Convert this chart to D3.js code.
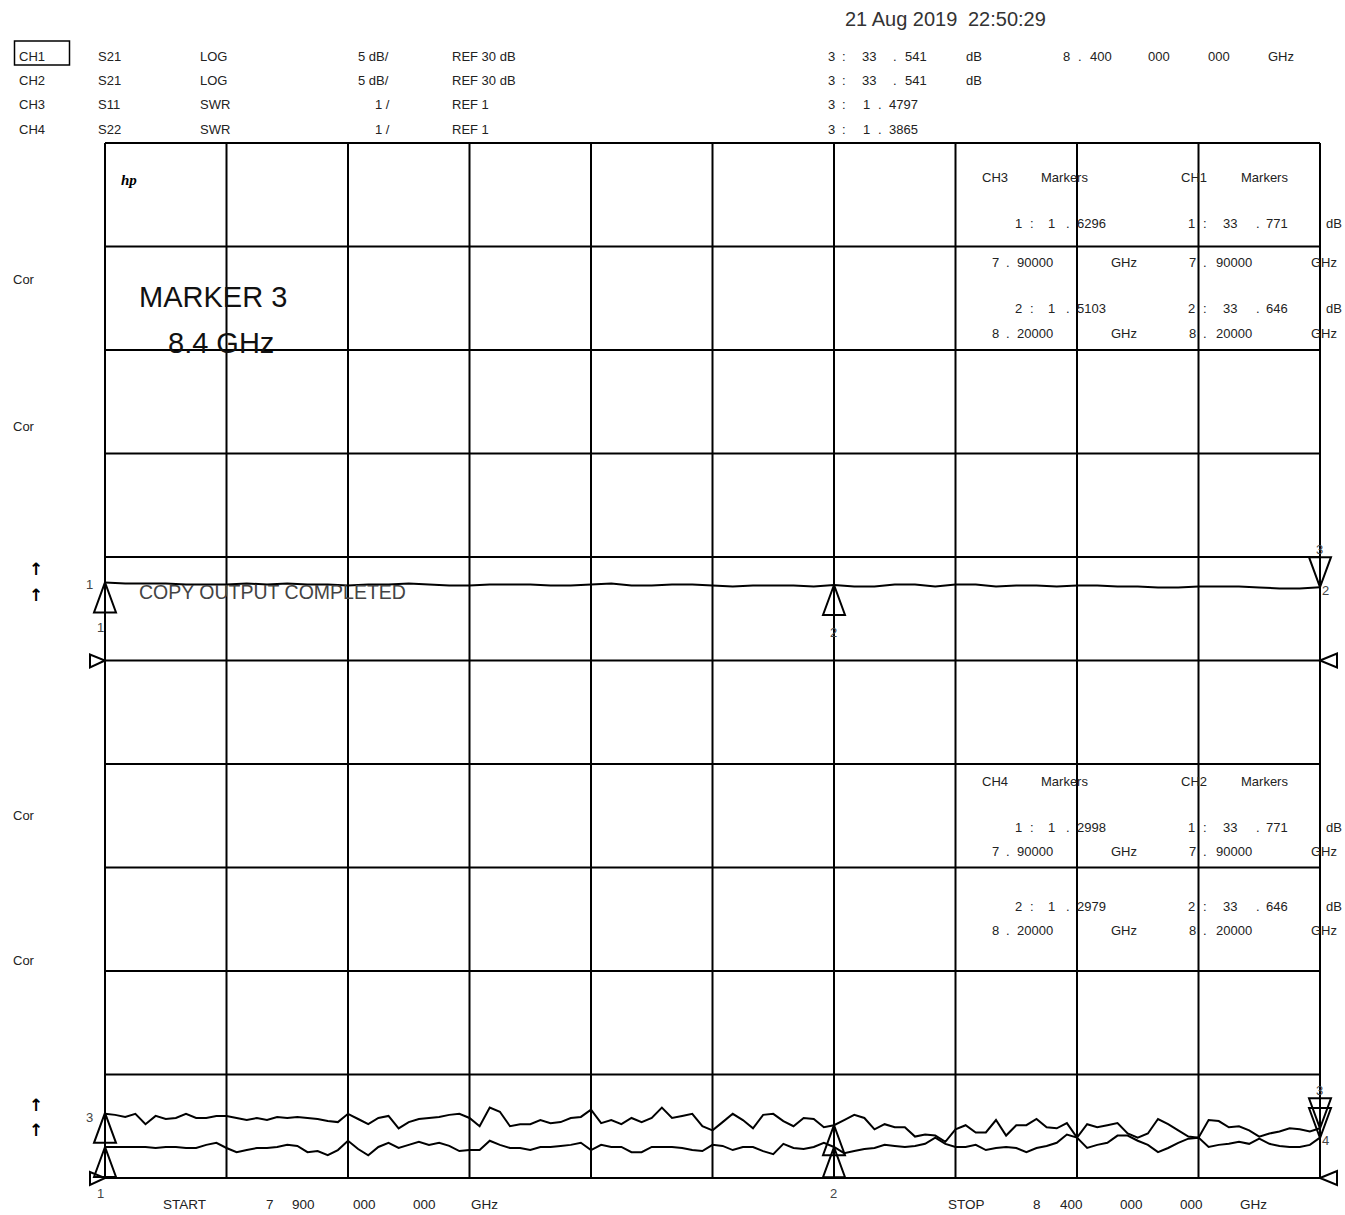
<!DOCTYPE html>
<html>
<head>
<meta charset="utf-8">
<script src="https://cdn.jsdelivr.net/npm/d3@7"></script>
<style>
  body { margin: 0; background: #fff; }
  svg { display: block; }
  text { font-family: "Liberation Sans", Arial, sans-serif; fill: #222; }
</style>
</head>
<body>
<div id="plotPanel"></div>
<script>

// sweep 7.9 .. 8.4 GHz
let startGHz = 7.9, stopGHz = 8.4;

// CH1  S21  LOG  (dB)
let ch1Db = [33.77, 33.72, 33.72, 33.72, 33.67, 33.67, 33.67, 33.72, 33.67, 33.72,
  33.67, 33.67, 33.62, 33.67, 33.67, 33.72, 33.67, 33.62, 33.62, 33.67,
  33.67, 33.67, 33.62, 33.62, 33.67, 33.72, 33.62, 33.62, 33.67, 33.67,
  33.62, 33.57, 33.62, 33.62, 33.62, 33.57, 33.65, 33.57, 33.57, 33.67,
  33.67, 33.57, 33.67, 33.67, 33.57, 33.62, 33.62, 33.57, 33.62, 33.62,
  33.57, 33.57, 33.53, 33.53, 33.57, 33.57, 33.57, 33.53, 33.48, 33.48, 33.54];

// CH3  S11  SWR
let ch3Swr = [1.62, 1.61, 1.59, 1.62, 1.52, 1.60, 1.57, 1.58, 1.62, 1.58,
  1.58, 1.60, 1.60, 1.58, 1.56, 1.58, 1.56, 1.59, 1.58, 1.59,
  1.58, 1.57, 1.55, 1.54, 1.62, 1.57, 1.52, 1.58, 1.60, 1.48,
  1.54, 1.57, 1.58, 1.59, 1.61, 1.62, 1.58, 1.50, 1.68, 1.64,
  1.50, 1.52, 1.52, 1.56, 1.53, 1.54, 1.58, 1.59, 1.66, 1.53,
  1.56, 1.52, 1.58, 1.54, 1.58, 1.68, 1.58, 1.60, 1.62, 1.50,
  1.46, 1.54, 1.62, 1.56, 1.48, 1.61, 1.62, 1.55, 1.50, 1.58,
  1.57, 1.49, 1.51, 1.56, 1.61, 1.58, 1.47, 1.52, 1.49, 1.49,
  1.40, 1.42, 1.41, 1.35, 1.47, 1.51, 1.44, 1.44, 1.56, 1.41,
  1.51, 1.51, 1.57, 1.49, 1.48, 1.53, 1.39, 1.52, 1.49, 1.51,
  1.53, 1.43, 1.39, 1.43, 1.57, 1.52, 1.46, 1.40, 1.39, 1.56,
  1.55, 1.49, 1.50, 1.46, 1.40, 1.43, 1.45, 1.48, 1.47, 1.45, 1.48];

// CH4  S22  SWR
let ch4Swr = [1.30, 1.30, 1.30, 1.30, 1.30, 1.29, 1.30, 1.30, 1.29, 1.29,
  1.32, 1.34, 1.29, 1.25, 1.27, 1.29, 1.29, 1.30, 1.32, 1.31,
  1.25, 1.26, 1.22, 1.27, 1.36, 1.28, 1.22, 1.30, 1.34, 1.29,
  1.32, 1.35, 1.32, 1.34, 1.31, 1.26, 1.27, 1.27, 1.36, 1.32,
  1.29, 1.29, 1.27, 1.30, 1.30, 1.31, 1.32, 1.34, 1.27, 1.32,
  1.30, 1.30, 1.25, 1.25, 1.30, 1.30, 1.30, 1.29, 1.27, 1.26,
  1.32, 1.31, 1.27, 1.30, 1.30, 1.26, 1.23, 1.33, 1.29, 1.28,
  1.30, 1.34, 1.30, 1.24, 1.26, 1.28, 1.29, 1.32, 1.31, 1.30,
  1.31, 1.33, 1.39, 1.33, 1.30, 1.30, 1.32, 1.27, 1.29, 1.30,
  1.29, 1.25, 1.29, 1.31, 1.34, 1.42, 1.39, 1.29, 1.32, 1.34,
  1.41, 1.41, 1.36, 1.32, 1.25, 1.29, 1.34, 1.38, 1.39, 1.30,
  1.32, 1.33, 1.35, 1.33, 1.38, 1.33, 1.31, 1.30, 1.30, 1.32, 1.39];

// markers
let markerGHz = [7.9, 8.2, 8.4];
let ch1Markers = [33.771, 33.646, 33.541];
let ch3Markers = [1.6296, 1.5103, 1.4797];
let ch4Markers = [1.2998, 1.2979, 1.3865];

// header texts
let channelNames = ["CH1", "CH2", "CH3", "CH4"];
let paramNames = ["S21", "S21", "S11", "S22"];
let formatNames = ["LOG", "LOG", "SWR", "SWR"];
let scaleNames = ["5 dB/", "5 dB/", "1 /", "1 /"];
let refNames = ["REF 30 dB", "REF 30 dB", "REF 1", "REF 1"];
let dateText = ["21 Aug 2019", "22:50:29"];

let W = 1345, H = 1215;
let plot = { left: 105, top: 143, right: 1320, bottom: 1178 };

let svg = d3.select("#plotPanel").append("svg")
  .attr("width", W)
  .attr("height", H);

// scales
let idx1 = d3.scaleLinear().domain([0, ch1Db.length - 1]).range([startGHz, stopGHz]);
let idx3 = d3.scaleLinear().domain([0, ch3Swr.length - 1]).range([startGHz, stopGHz]);
let xScale = d3.scaleLinear().domain([startGHz, stopGHz]).range([plot.left, plot.right]);
// 5 dB/div, ref 30 dB on the middle line
let yDb = d3.scaleLinear().domain([5, 55]).range([plot.bottom, plot.top]);
// 1/div, ref 1 on the bottom line
let ySwr = d3.scaleLinear().domain([1, 11]).range([plot.bottom, plot.top]);
let gx = d3.scaleLinear().domain([0, 10]).range([plot.left, plot.right]);
let gy = d3.scaleLinear().domain([0, 10]).range([plot.top, plot.bottom]);

// grid
svg.append("g").selectAll("line.v")
  .data(d3.range(11))
  .enter().append("line")
  .attr("x1", d => gx(d)).attr("x2", d => gx(d))
  .attr("y1", plot.top).attr("y2", plot.bottom)
  .attr("stroke", "#000").attr("stroke-width", 2);

svg.append("g").selectAll("line.h")
  .data(d3.range(11))
  .enter().append("line")
  .attr("x1", plot.left).attr("x2", plot.right)
  .attr("y1", d => gy(d)).attr("y2", d => gy(d))
  .attr("stroke", "#000").attr("stroke-width", 2);

// traces
let lineDb = d3.line()
  .x((d, i) => xScale(idx1(i)))
  .y(d => yDb(d));
let lineSwr = d3.line()
  .x((d, i) => xScale(idx3(i)))
  .y(d => ySwr(d));

svg.append("path").datum(ch1Db)
  .attr("fill", "none").attr("stroke", "#000").attr("stroke-width", 2)
  .attr("d", lineDb);
svg.append("path").datum(ch3Swr)
  .attr("fill", "none").attr("stroke", "#000").attr("stroke-width", 2)
  .attr("d", lineSwr);
svg.append("path").datum(ch4Swr)
  .attr("fill", "none").attr("stroke", "#000").attr("stroke-width", 2)
  .attr("d", lineSwr);

// marker triangles
function tri(x, y, up) {
  let h = up ? 30 : -30;
  return "M" + x + "," + y + "L" + (x - 11) + "," + (y + h) + "L" + (x + 11) + "," + (y + h) + "Z";
}
function drawMarkers(vals, yS) {
  vals.forEach(function (v, i) {
    svg.append("path")
      .attr("d", tri(xScale(markerGHz[i]), yS(v), i < 2))
      .attr("fill", "none").attr("stroke", "#000").attr("stroke-width", 2);
  });
}
drawMarkers(ch1Markers, yDb);
drawMarkers(ch3Markers, ySwr);
drawMarkers(ch4Markers, ySwr);

// reference position pointers
function refPointers(y) {
  svg.append("path")
    .attr("d", "M90," + (y - 6) + "L90," + (y + 7) + "L" + plot.left + "," + y + "Z")
    .attr("fill", "none").attr("stroke", "#000").attr("stroke-width", 2);
  svg.append("path")
    .attr("d", "M" + plot.right + "," + y + "L1337," + (y - 7) + "L1337," + (y + 7) + "Z")
    .attr("fill", "none").attr("stroke", "#000").attr("stroke-width", 2);
}
refPointers(yDb(30));
refPointers(ySwr(1));

// small text helper
function txt(x, y, s, size, fill) {
  return svg.append("text")
    .attr("x", x).attr("y", y)
    .attr("font-size", size || 13)
    .style("fill", fill || "#222")
    .text(s);
}

// marker labels
let lab = "#444";
txt(86, yDb(ch1Markers[0]) + 7, "1", 13, lab);
txt(97, yDb(ch1Markers[0]) + 50, "1", 13, lab);
txt(xScale(markerGHz[1]) - 4, yDb(ch1Markers[1]) + 52, "2", 13, lab);
txt(xScale(markerGHz[2]) - 4, yDb(ch1Markers[2]) - 33, "3", 13, lab);
txt(xScale(markerGHz[2]) + 2, yDb(ch1Markers[2]) + 8, "2", 13, lab);
txt(86, ySwr(ch3Markers[0]) + 9, "3", 13, lab);
txt(97, plot.bottom + 20, "1", 13, lab);
txt(xScale(markerGHz[1]) - 4, plot.bottom + 20, "2", 13, lab);
txt(xScale(markerGHz[2]) - 4, ySwr(ch3Markers[2]) - 33, "3", 13, lab);
txt(xScale(markerGHz[2]) + 2, ySwr(ch4Markers[2]) + 7, "4", 13, lab);

// header
let rowY = [61, 85, 109, 134];
channelNames.forEach(function (c, i) {
  txt(19, rowY[i], c);
  txt(98, rowY[i], paramNames[i]);
  txt(200, rowY[i], formatNames[i]);
  txt(i < 2 ? 358 : 375, rowY[i], scaleNames[i]);
  txt(452, rowY[i], refNames[i]);
});
svg.append("rect")
  .attr("x", 14.5).attr("y", 41).attr("width", 55).attr("height", 24)
  .attr("fill", "none").attr("stroke", "#000").attr("stroke-width", 1.5);

txt(845, 26, dateText[0], 20, "#333");
txt(968, 26, dateText[1], 20, "#333");

function pieces(xs, y, ss, size) {
  ss.forEach(function (s, i) { txt(xs[i], y, s, size); });
}
let readX = [828, 842, 862, 893, 905, 966];
pieces(readX, rowY[0], ["3", ":", "33", ".", "541", "dB"]);
pieces([1063, 1078, 1090, 1148, 1208, 1268], rowY[0], ["8", ".", "400", "000", "000", "GHz"]);
pieces(readX, rowY[1], ["3", ":", "33", ".", "541", "dB"]);
pieces([828, 842, 863, 878, 889], rowY[2], ["3", ":", "1", ".", "4797"]);
pieces([828, 842, 863, 878, 889], rowY[3], ["3", ":", "1", ".", "3865"]);

// marker tables
function markerTable(y0, swrName, dbName, swrVals, freqRows) {
  txt(982, y0, swrName);
  txt(1041, y0, "Markers");
  txt(1181, y0, dbName);
  txt(1241, y0, "Markers");
  [0, 1].forEach(function (k) {
    let r = freqRows[k];
    pieces([1015, 1030, 1048, 1066, 1077], r[0], [String(k + 1), ":", "1", ".", swrVals[k]]);
    pieces([1188, 1203, 1223, 1256, 1266, 1326], r[0], [String(k + 1), ":", "33", ".", ["771", "646"][k], "dB"]);
    let f = ["90000", "20000"][k], g = ["7", "8"][k];
    pieces([992, 1006, 1017, 1111], r[1], [g, ".", f, "GHz"]);
    pieces([1189, 1203, 1216, 1311], r[1], [g, ".", f, "GHz"]);
  });
}
markerTable(182, "CH3", "CH1", ["6296", "5103"], [[228, 267], [313, 338]]);
markerTable(786, "CH4", "CH2", ["2998", "2979"], [[832, 856], [911, 935]]);

// left annotations
[284, 431, 820, 965].forEach(function (y) { txt(13, y, "Cor"); });
[575, 601, 1111, 1136].forEach(function (y) {
  svg.append("text").attr("x", 29).attr("y", y)
    .attr("font-size", 17).attr("font-weight", "bold")
    .style("font-family", "DejaVu Sans").style("fill", "#000")
    .text("\u2191");
});

svg.append("text").attr("x", 121).attr("y", 185)
  .attr("font-size", 15).attr("font-weight", "bold").attr("font-style", "italic")
  .style("font-family", "Liberation Serif").style("fill", "#000")
  .text("hp");

// annotation text
txt(139, 307, "MARKER 3", 29, "#111");
txt(168, 353, "8.4 GHz", 29, "#111");
txt(139, 599, "COPY OUTPUT COMPLETED", 19.5, "#444");

// sweep limits
pieces([163, 266, 292, 353, 413, 471], 1209, ["START", "7", "900", "000", "000", "GHz"], 13.5);
pieces([948, 1033, 1060, 1120, 1180, 1240], 1209, ["STOP", "8", "400", "000", "000", "GHz"], 13.5);

</script>
</body>
</html>
